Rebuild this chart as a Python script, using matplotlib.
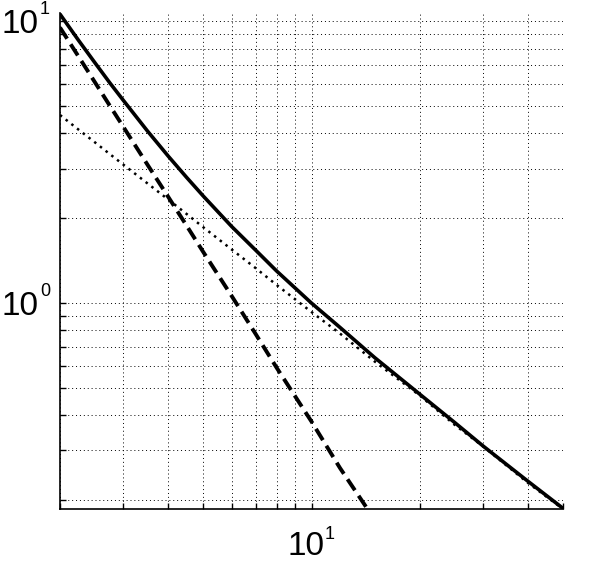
import numpy as np
import matplotlib
matplotlib.use("Agg")
import matplotlib.pyplot as plt
from matplotlib.ticker import LogLocator, NullFormatter

plt.rcParams["font.family"] = ["Liberation Sans", "DejaVu Sans"]

# values (log-log axes)
x_vals = [2, 2.25, 2.5, 2.75, 3, 3.5, 4, 4.5, 5, 6, 7, 8, 10, 12, 15, 20, 25, 30, 40, 50]
total = [10.6, 8.57, 7.13, 6.05, 5.24, 4.08, 3.32, 2.79, 2.40, 1.87, 1.54, 1.30, 1.00,
         0.82, 0.64, 0.475, 0.377, 0.311, 0.233, 0.187]
part_1 = [4.65, 4.13, 3.72, 3.38, 3.10, 2.66, 2.33, 2.07, 1.86, 1.55, 1.33, 1.16, 0.93,
          0.78, 0.62, 0.47, 0.37, 0.31, 0.23, 0.186]
x_dash = [2, 2.25, 2.5, 2.75, 3, 3.5, 4, 4.5, 5, 6, 7, 8, 10, 12, 15]
part_2 = [9.5, 7.51, 6.08, 5.02, 4.22, 3.10, 2.38, 1.88, 1.52, 1.06, 0.776, 0.59, 0.38, 0.26, 0.17]

x_major = [10]
y_major = [1, 10]

fig = plt.figure(figsize=(5.94, 5.67), dpi=100)
ax = fig.add_axes([60 / 594, 1 - 509 / 567, 503 / 594, 496 / 567])

ax.loglog(x_vals, total, color="black", linewidth=2.6)
ax.loglog(x_dash, part_2, color="black", linewidth=2.8, dashes=(3.4, 1.7))
ax.loglog(x_vals, part_1, color="black", linewidth=1.8, dashes=(1.0, 1.9))

ax.set_xlim(2, 50)
ax.set_ylim(0.186, 10.7)

ax.grid(True, which="both", color="black", linestyle=(0, (1, 3)), linewidth=0.7)
ax.set_axisbelow(True)
for s in ["top", "right"]:
    ax.spines[s].set_visible(False)
for s in ["left", "bottom"]:
    ax.spines[s].set_linewidth(1.2)

for axis in (ax.xaxis, ax.yaxis):
    axis.set_major_locator(LogLocator(base=10))
    axis.set_minor_locator(LogLocator(base=10, subs=np.arange(2, 10)))
    axis.set_major_formatter(NullFormatter())
    axis.set_minor_formatter(NullFormatter())
ax.tick_params(which="both", direction="in", length=4, width=1)

# MATLAB-style "10^n" labels: big base, small raised exponent
big, small = 24, 13
for v in y_major:
    e = int(round(np.log10(v)))
    ax.annotate("10", xy=(0, v), xycoords=("axes fraction", "data"),
                xytext=(-22, -12), textcoords="offset pixels",
                ha="right", va="baseline", fontsize=big)
    ax.annotate(str(e), xy=(0, v), xycoords=("axes fraction", "data"),
                xytext=(-20, 7), textcoords="offset pixels",
                ha="left", va="baseline", fontsize=small)
for v in x_major:
    e = int(round(np.log10(v)))
    ax.annotate("10", xy=(v, 0), xycoords=("data", "axes fraction"),
                xytext=(-6, -46), textcoords="offset pixels",
                ha="center", va="baseline", fontsize=big)
    ax.annotate(str(e), xy=(v, 0), xycoords=("data", "axes fraction"),
                xytext=(13, -30), textcoords="offset pixels",
                ha="left", va="baseline", fontsize=small)

plt.savefig("out.png", dpi=100)
